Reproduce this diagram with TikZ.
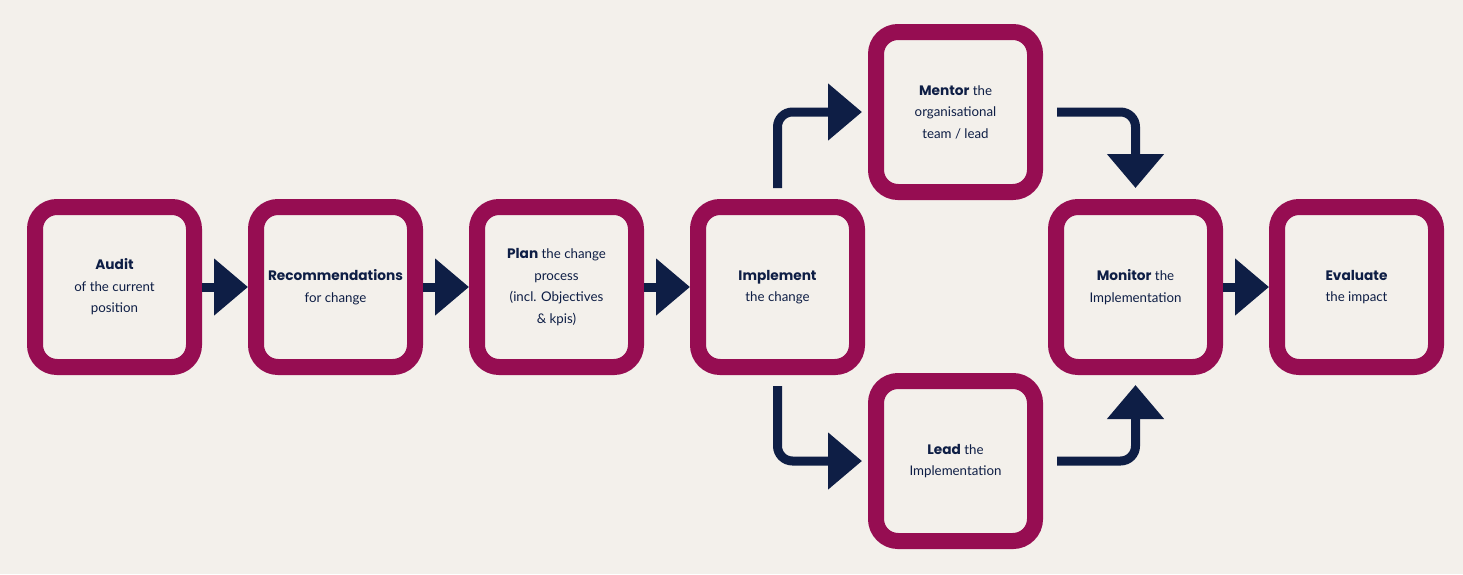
\documentclass[tikz,border=0pt]{standalone}
\usepackage{fontspec}
\setmainfont{Lato}
\newfontfamily\headfont{Poppins}
\usetikzlibrary{arrows.meta}
\definecolor{bg}{HTML}{F3F0EB}
\definecolor{plum}{HTML}{960D52}
\definecolor{navy}{HTML}{0E1E45}
\newcommand\hw[1]{{\headfont\bfseries\fontsize{13.7}{21.5}\selectfont #1}}
\tikzset{
  stage/.style={draw=plum, line width=16pt, rounded corners=22pt, rectangle,
    minimum width=159pt, minimum height=160pt, inner sep=0pt, align=center,
    text=navy, font=\fontsize{13.3}{21.5}\selectfont},
  flow/.style={draw=navy, line width=9pt, rounded corners=15pt,
    -{Triangle[length=34pt,width=55pt]}},
}
\begin{document}
\begin{tikzpicture}[x=1pt,y=-1pt]
\fill[bg] (0,0) rectangle (1463,574);
\useasboundingbox (0,0) rectangle (1463,574);
\node[stage] (audit) at (114.5,287) {\hw{Audit}\\of the current\\position};
\node[stage] (rec) at (335.5,287) {\hw{Recommendations}\\for change};
\node[stage] (plan) at (556.5,287) {\hw{Plan} the change\\process\\(incl. Objectives\\\& kpis)};
\node[stage] (impl) at (777.5,287) {\hw{Implement}\\the change};
\node[stage] (ment) at (955.5,112) {\hw{Mentor} the\\organisational\\team / lead};
\node[stage] (lead) at (955.5,461) {\hw{Lead} the\\Implementation};
\node[stage] (mon) at (1135.5,287) {\hw{Monitor} the\\Implementation};
\node[stage] (eval) at (1356.5,287) {\hw{Evaluate}\\the impact};
\draw[flow] (audit.east) -- (rec.west);
\draw[flow] (rec.east) -- (plan.west);
\draw[flow] (plan.east) -- (impl.west);
\draw[flow] (mon.east) -- (eval.west);
\draw[flow, shorten <=11pt, shorten >=6pt] (impl.north) -- (impl.north |- ment.west) -- (ment.west);
\draw[flow, shorten <=11pt, shorten >=6pt] (impl.south) -- (impl.south |- lead.west) -- (lead.west);
\draw[flow, shorten <=14pt, shorten >=11pt] (ment.east) -- (ment.east -| mon.north) -- (mon.north);
\draw[flow, shorten <=14pt, shorten >=10pt] (lead.east) -- (lead.east -| mon.south) -- (mon.south);
\end{tikzpicture}
\end{document}
